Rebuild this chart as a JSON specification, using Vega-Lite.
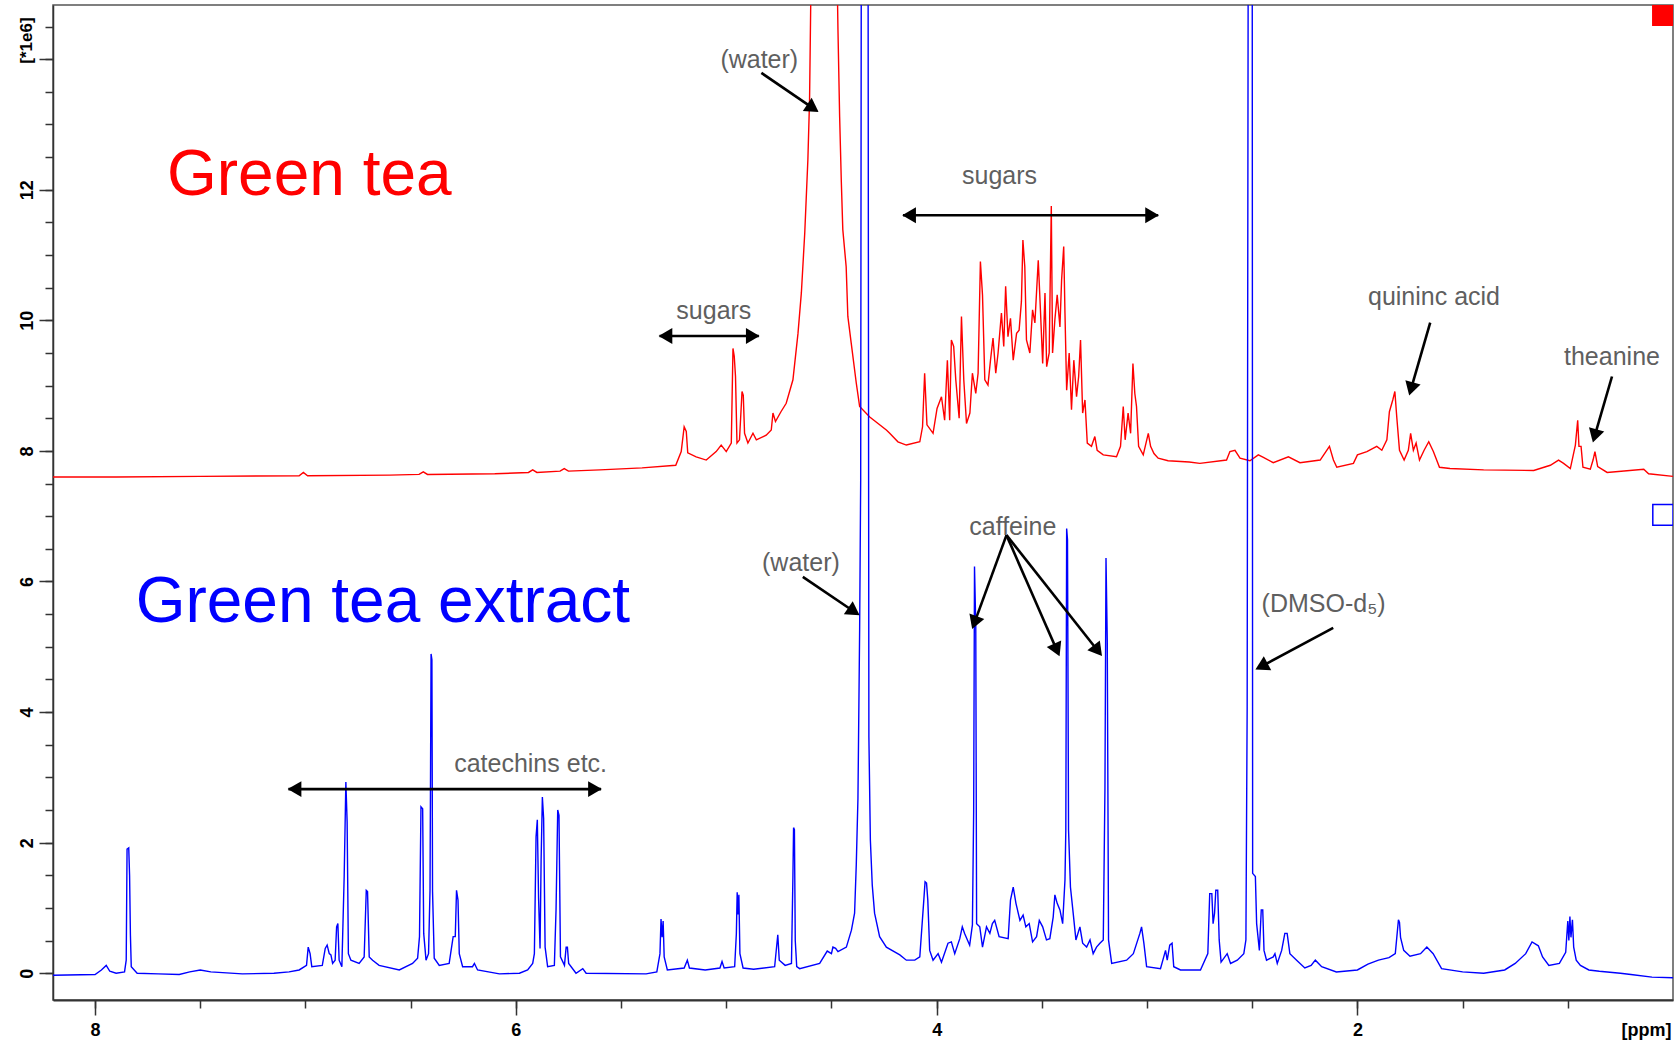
{
  "$schema": "https://vega.github.io/schema/vega-lite/v6.json",
  "autosize": {"type": "none"},
  "width": 1620,
  "height": 995,
  "padding": {"left": 53, "top": 5, "right": 2, "bottom": 47},
  "background": "#ffffff",
  "config": {
    "view": {"stroke": "#555555", "strokeWidth": 1.5},
    "axis": {"grid": false, "labelFont": "Liberation Sans", "labelFontWeight": "bold", "labelFontSize": 18, "labelColor": "#000000", "titleFont": "Liberation Sans", "titleFontWeight": "bold", "titleFontSize": 18, "titleColor": "#000000", "tickColor": "#333333", "tickWidth": 1.5, "domainColor": "#333333", "labelFlush": false, "labelOverlap": false}
  },
  "datasets": {
    "spectra": [
      {"sample":"Green tea","ppm":8.2,"i":7.6},{"sample":"Green tea","ppm":7.9,"i":7.6},{"sample":"Green tea","ppm":7.5,"i":7.61},{"sample":"Green tea","ppm":7.03,"i":7.62},{"sample":"Green tea","ppm":7.01,"i":7.67},{"sample":"Green tea","ppm":6.99,"i":7.62},{"sample":"Green tea","ppm":6.6,"i":7.63},{"sample":"Green tea","ppm":6.46,"i":7.64},{"sample":"Green tea","ppm":6.44,"i":7.68},{"sample":"Green tea","ppm":6.42,"i":7.64},{"sample":"Green tea","ppm":6.1,"i":7.65},{"sample":"Green tea","ppm":5.94,"i":7.67},{"sample":"Green tea","ppm":5.92,"i":7.71},{"sample":"Green tea","ppm":5.9,"i":7.67},{"sample":"Green tea","ppm":5.79,"i":7.69},{"sample":"Green tea","ppm":5.77,"i":7.73},{"sample":"Green tea","ppm":5.75,"i":7.69},{"sample":"Green tea","ppm":5.6,"i":7.71},{"sample":"Green tea","ppm":5.4,"i":7.74},{"sample":"Green tea","ppm":5.24,"i":7.78},{"sample":"Green tea","ppm":5.214,"i":7.99},{"sample":"Green tea","ppm":5.2,"i":8.37},{"sample":"Green tea","ppm":5.19,"i":8.3},{"sample":"Green tea","ppm":5.183,"i":7.97},{"sample":"Green tea","ppm":5.143,"i":7.91},{"sample":"Green tea","ppm":5.095,"i":7.86},{"sample":"Green tea","ppm":5.048,"i":7.99},{"sample":"Green tea","ppm":5.024,"i":8.09},{"sample":"Green tea","ppm":5.0,"i":7.99},{"sample":"Green tea","ppm":4.976,"i":8.12},{"sample":"Green tea","ppm":4.968,"i":9.57},{"sample":"Green tea","ppm":4.962,"i":9.45},{"sample":"Green tea","ppm":4.956,"i":9.14},{"sample":"Green tea","ppm":4.949,"i":8.12},{"sample":"Green tea","ppm":4.937,"i":8.17},{"sample":"Green tea","ppm":4.925,"i":8.91},{"sample":"Green tea","ppm":4.919,"i":8.85},{"sample":"Green tea","ppm":4.913,"i":8.27},{"sample":"Green tea","ppm":4.897,"i":8.12},{"sample":"Green tea","ppm":4.873,"i":8.27},{"sample":"Green tea","ppm":4.857,"i":8.17},{"sample":"Green tea","ppm":4.81,"i":8.24},{"sample":"Green tea","ppm":4.786,"i":8.32},{"sample":"Green tea","ppm":4.778,"i":8.58},{"sample":"Green tea","ppm":4.766,"i":8.45},{"sample":"Green tea","ppm":4.74,"i":8.6},{"sample":"Green tea","ppm":4.715,"i":8.73},{"sample":"Green tea","ppm":4.683,"i":9.09},{"sample":"Green tea","ppm":4.659,"i":9.8},{"sample":"Green tea","ppm":4.643,"i":10.42},{"sample":"Green tea","ppm":4.627,"i":11.33},{"sample":"Green tea","ppm":4.612,"i":12.46},{"sample":"Green tea","ppm":4.604,"i":13.38},{"sample":"Green tea","ppm":4.596,"i":15.5},{"sample":"Green tea","ppm":4.54,"i":22},{"sample":"Green tea","ppm":4.474,"i":15.5},{"sample":"Green tea","ppm":4.469,"i":14.45},{"sample":"Green tea","ppm":4.461,"i":13.12},{"sample":"Green tea","ppm":4.453,"i":12.12},{"sample":"Green tea","ppm":4.446,"i":11.39},{"sample":"Green tea","ppm":4.43,"i":10.82},{"sample":"Green tea","ppm":4.422,"i":10.06},{"sample":"Green tea","ppm":4.406,"i":9.65},{"sample":"Green tea","ppm":4.382,"i":9.04},{"sample":"Green tea","ppm":4.366,"i":8.68},{"sample":"Green tea","ppm":4.318,"i":8.52},{"sample":"Green tea","ppm":4.239,"i":8.32},{"sample":"Green tea","ppm":4.223,"i":8.27},{"sample":"Green tea","ppm":4.184,"i":8.14},{"sample":"Green tea","ppm":4.144,"i":8.09},{"sample":"Green tea","ppm":4.08,"i":8.14},{"sample":"Green tea","ppm":4.067,"i":8.37},{"sample":"Green tea","ppm":4.057,"i":9.19},{"sample":"Green tea","ppm":4.046,"i":8.4},{"sample":"Green tea","ppm":4.017,"i":8.27},{"sample":"Green tea","ppm":3.998,"i":8.65},{"sample":"Green tea","ppm":3.977,"i":8.83},{"sample":"Green tea","ppm":3.962,"i":8.47},{"sample":"Green tea","ppm":3.949,"i":9.39},{"sample":"Green tea","ppm":3.938,"i":8.47},{"sample":"Green tea","ppm":3.93,"i":9.7},{"sample":"Green tea","ppm":3.919,"i":9.6},{"sample":"Green tea","ppm":3.909,"i":9.09},{"sample":"Green tea","ppm":3.893,"i":8.5},{"sample":"Green tea","ppm":3.882,"i":10.06},{"sample":"Green tea","ppm":3.871,"i":9.09},{"sample":"Green tea","ppm":3.858,"i":8.42},{"sample":"Green tea","ppm":3.842,"i":8.58},{"sample":"Green tea","ppm":3.83,"i":9.19},{"sample":"Green tea","ppm":3.814,"i":8.88},{"sample":"Green tea","ppm":3.803,"i":9.19},{"sample":"Green tea","ppm":3.792,"i":10.9},{"sample":"Green tea","ppm":3.782,"i":10.39},{"sample":"Green tea","ppm":3.771,"i":9.09},{"sample":"Green tea","ppm":3.756,"i":9.01},{"sample":"Green tea","ppm":3.744,"i":9.39},{"sample":"Green tea","ppm":3.732,"i":9.73},{"sample":"Green tea","ppm":3.719,"i":9.19},{"sample":"Green tea","ppm":3.708,"i":9.5},{"sample":"Green tea","ppm":3.692,"i":10.11},{"sample":"Green tea","ppm":3.681,"i":9.6},{"sample":"Green tea","ppm":3.672,"i":10.52},{"sample":"Green tea","ppm":3.661,"i":9.75},{"sample":"Green tea","ppm":3.649,"i":10.03},{"sample":"Green tea","ppm":3.636,"i":9.39},{"sample":"Green tea","ppm":3.62,"i":9.8},{"sample":"Green tea","ppm":3.608,"i":9.85},{"sample":"Green tea","ppm":3.597,"i":10.29},{"sample":"Green tea","ppm":3.59,"i":11.23},{"sample":"Green tea","ppm":3.581,"i":10.82},{"sample":"Green tea","ppm":3.573,"i":9.7},{"sample":"Green tea","ppm":3.557,"i":9.5},{"sample":"Green tea","ppm":3.544,"i":10.16},{"sample":"Green tea","ppm":3.533,"i":9.96},{"sample":"Green tea","ppm":3.517,"i":10.92},{"sample":"Green tea","ppm":3.506,"i":10.11},{"sample":"Green tea","ppm":3.496,"i":9.34},{"sample":"Green tea","ppm":3.485,"i":10.42},{"sample":"Green tea","ppm":3.477,"i":9.29},{"sample":"Green tea","ppm":3.465,"i":9.5},{"sample":"Green tea","ppm":3.455,"i":11.75},{"sample":"Green tea","ppm":3.449,"i":9.5},{"sample":"Green tea","ppm":3.438,"i":10.01},{"sample":"Green tea","ppm":3.427,"i":10.39},{"sample":"Green tea","ppm":3.414,"i":9.9},{"sample":"Green tea","ppm":3.406,"i":10.62},{"sample":"Green tea","ppm":3.396,"i":11.13},{"sample":"Green tea","ppm":3.39,"i":10.11},{"sample":"Green tea","ppm":3.382,"i":8.93},{"sample":"Green tea","ppm":3.37,"i":9.5},{"sample":"Green tea","ppm":3.359,"i":8.63},{"sample":"Green tea","ppm":3.348,"i":9.39},{"sample":"Green tea","ppm":3.335,"i":8.83},{"sample":"Green tea","ppm":3.325,"i":9.14},{"sample":"Green tea","ppm":3.316,"i":9.7},{"sample":"Green tea","ppm":3.306,"i":8.58},{"sample":"Green tea","ppm":3.295,"i":8.78},{"sample":"Green tea","ppm":3.284,"i":8.12},{"sample":"Green tea","ppm":3.264,"i":8.07},{"sample":"Green tea","ppm":3.248,"i":8.22},{"sample":"Green tea","ppm":3.237,"i":8.01},{"sample":"Green tea","ppm":3.208,"i":7.94},{"sample":"Green tea","ppm":3.145,"i":7.91},{"sample":"Green tea","ppm":3.126,"i":8.07},{"sample":"Green tea","ppm":3.113,"i":8.68},{"sample":"Green tea","ppm":3.104,"i":8.17},{"sample":"Green tea","ppm":3.09,"i":8.58},{"sample":"Green tea","ppm":3.078,"i":8.27},{"sample":"Green tea","ppm":3.067,"i":9.34},{"sample":"Green tea","ppm":3.058,"i":8.88},{"sample":"Green tea","ppm":3.05,"i":8.68},{"sample":"Green tea","ppm":3.04,"i":8.07},{"sample":"Green tea","ppm":3.018,"i":7.94},{"sample":"Green tea","ppm":2.994,"i":8.27},{"sample":"Green tea","ppm":2.983,"i":8.07},{"sample":"Green tea","ppm":2.967,"i":7.96},{"sample":"Green tea","ppm":2.947,"i":7.89},{"sample":"Green tea","ppm":2.9,"i":7.85},{"sample":"Green tea","ppm":2.8,"i":7.83},{"sample":"Green tea","ppm":2.749,"i":7.81},{"sample":"Green tea","ppm":2.622,"i":7.86},{"sample":"Green tea","ppm":2.606,"i":7.99},{"sample":"Green tea","ppm":2.582,"i":8.01},{"sample":"Green tea","ppm":2.558,"i":7.89},{"sample":"Green tea","ppm":2.511,"i":7.85},{"sample":"Green tea","ppm":2.471,"i":7.94},{"sample":"Green tea","ppm":2.447,"i":7.9},{"sample":"Green tea","ppm":2.4,"i":7.82},{"sample":"Green tea","ppm":2.328,"i":7.91},{"sample":"Green tea","ppm":2.273,"i":7.82},{"sample":"Green tea","ppm":2.177,"i":7.86},{"sample":"Green tea","ppm":2.133,"i":8.07},{"sample":"Green tea","ppm":2.114,"i":7.86},{"sample":"Green tea","ppm":2.098,"i":7.75},{"sample":"Green tea","ppm":2.019,"i":7.81},{"sample":"Green tea","ppm":2.0,"i":7.94},{"sample":"Green tea","ppm":1.955,"i":7.99},{"sample":"Green tea","ppm":1.908,"i":8.07},{"sample":"Green tea","ppm":1.884,"i":8.01},{"sample":"Green tea","ppm":1.86,"i":8.17},{"sample":"Green tea","ppm":1.848,"i":8.6},{"sample":"Green tea","ppm":1.832,"i":8.78},{"sample":"Green tea","ppm":1.822,"i":8.91},{"sample":"Green tea","ppm":1.813,"i":8.52},{"sample":"Green tea","ppm":1.8,"i":8.01},{"sample":"Green tea","ppm":1.778,"i":7.86},{"sample":"Green tea","ppm":1.758,"i":8.01},{"sample":"Green tea","ppm":1.747,"i":8.27},{"sample":"Green tea","ppm":1.734,"i":8.01},{"sample":"Green tea","ppm":1.721,"i":8.12},{"sample":"Green tea","ppm":1.705,"i":7.86},{"sample":"Green tea","ppm":1.683,"i":8.01},{"sample":"Green tea","ppm":1.661,"i":8.14},{"sample":"Green tea","ppm":1.639,"i":7.99},{"sample":"Green tea","ppm":1.61,"i":7.75},{"sample":"Green tea","ppm":1.56,"i":7.73},{"sample":"Green tea","ppm":1.4,"i":7.71},{"sample":"Green tea","ppm":1.162,"i":7.7},{"sample":"Green tea","ppm":1.083,"i":7.78},{"sample":"Green tea","ppm":1.044,"i":7.86},{"sample":"Green tea","ppm":1.02,"i":7.81},{"sample":"Green tea","ppm":0.988,"i":7.73},{"sample":"Green tea","ppm":0.964,"i":8.09},{"sample":"Green tea","ppm":0.953,"i":8.47},{"sample":"Green tea","ppm":0.947,"i":8.07},{"sample":"Green tea","ppm":0.937,"i":8.07},{"sample":"Green tea","ppm":0.928,"i":7.75},{"sample":"Green tea","ppm":0.893,"i":7.72},{"sample":"Green tea","ppm":0.88,"i":7.86},{"sample":"Green tea","ppm":0.871,"i":7.99},{"sample":"Green tea","ppm":0.858,"i":7.76},{"sample":"Green tea","ppm":0.813,"i":7.67},{"sample":"Green tea","ppm":0.639,"i":7.72},{"sample":"Green tea","ppm":0.616,"i":7.65},{"sample":"Green tea","ppm":0.5,"i":7.61},

      {"sample":"Green tea extract","ppm":8.2,"i":-0.03},{"sample":"Green tea extract","ppm":8.0,"i":-0.02},{"sample":"Green tea extract","ppm":7.97,"i":0.05},{"sample":"Green tea extract","ppm":7.947,"i":0.12},{"sample":"Green tea extract","ppm":7.93,"i":0.03},{"sample":"Green tea extract","ppm":7.9,"i":0.0},{"sample":"Green tea extract","ppm":7.86,"i":0.02},{"sample":"Green tea extract","ppm":7.852,"i":0.2},{"sample":"Green tea extract","ppm":7.848,"i":1.9},{"sample":"Green tea extract","ppm":7.84,"i":1.92},{"sample":"Green tea extract","ppm":7.836,"i":1.5},{"sample":"Green tea extract","ppm":7.832,"i":0.58},{"sample":"Green tea extract","ppm":7.828,"i":0.1},{"sample":"Green tea extract","ppm":7.8,"i":0.0},{"sample":"Green tea extract","ppm":7.7,"i":-0.01},{"sample":"Green tea extract","ppm":7.6,"i":-0.02},{"sample":"Green tea extract","ppm":7.55,"i":0.02},{"sample":"Green tea extract","ppm":7.5,"i":0.05},{"sample":"Green tea extract","ppm":7.45,"i":0.02},{"sample":"Green tea extract","ppm":7.3,"i":-0.01},{"sample":"Green tea extract","ppm":7.15,"i":0.0},{"sample":"Green tea extract","ppm":7.078,"i":0.02},{"sample":"Green tea extract","ppm":7.03,"i":0.05},{"sample":"Green tea extract","ppm":6.995,"i":0.12},{"sample":"Green tea extract","ppm":6.987,"i":0.4},{"sample":"Green tea extract","ppm":6.978,"i":0.3},{"sample":"Green tea extract","ppm":6.97,"i":0.1},{"sample":"Green tea extract","ppm":6.92,"i":0.12},{"sample":"Green tea extract","ppm":6.906,"i":0.38},{"sample":"Green tea extract","ppm":6.897,"i":0.43},{"sample":"Green tea extract","ppm":6.887,"i":0.3},{"sample":"Green tea extract","ppm":6.879,"i":0.28},{"sample":"Green tea extract","ppm":6.871,"i":0.15},{"sample":"Green tea extract","ppm":6.859,"i":0.2},{"sample":"Green tea extract","ppm":6.852,"i":0.71},{"sample":"Green tea extract","ppm":6.846,"i":0.76},{"sample":"Green tea extract","ppm":6.84,"i":0.2},{"sample":"Green tea extract","ppm":6.827,"i":0.1},{"sample":"Green tea extract","ppm":6.816,"i":1.48},{"sample":"Green tea extract","ppm":6.808,"i":2.93},{"sample":"Green tea extract","ppm":6.802,"i":2.32},{"sample":"Green tea extract","ppm":6.796,"i":0.3},{"sample":"Green tea extract","ppm":6.784,"i":0.2},{"sample":"Green tea extract","ppm":6.745,"i":0.15},{"sample":"Green tea extract","ppm":6.721,"i":0.25},{"sample":"Green tea extract","ppm":6.711,"i":1.27},{"sample":"Green tea extract","ppm":6.705,"i":1.25},{"sample":"Green tea extract","ppm":6.697,"i":0.25},{"sample":"Green tea extract","ppm":6.681,"i":0.2},{"sample":"Green tea extract","ppm":6.65,"i":0.12},{"sample":"Green tea extract","ppm":6.554,"i":0.05},{"sample":"Green tea extract","ppm":6.491,"i":0.15},{"sample":"Green tea extract","ppm":6.467,"i":0.23},{"sample":"Green tea extract","ppm":6.458,"i":0.56},{"sample":"Green tea extract","ppm":6.451,"i":2.55},{"sample":"Green tea extract","ppm":6.443,"i":2.52},{"sample":"Green tea extract","ppm":6.438,"i":0.61},{"sample":"Green tea extract","ppm":6.427,"i":0.2},{"sample":"Green tea extract","ppm":6.415,"i":0.3},{"sample":"Green tea extract","ppm":6.408,"i":1.27},{"sample":"Green tea extract","ppm":6.403,"i":4.89},{"sample":"Green tea extract","ppm":6.399,"i":4.8},{"sample":"Green tea extract","ppm":6.396,"i":1.25},{"sample":"Green tea extract","ppm":6.388,"i":0.23},{"sample":"Green tea extract","ppm":6.364,"i":0.12},{"sample":"Green tea extract","ppm":6.317,"i":0.15},{"sample":"Green tea extract","ppm":6.298,"i":0.56},{"sample":"Green tea extract","ppm":6.288,"i":0.56},{"sample":"Green tea extract","ppm":6.282,"i":1.27},{"sample":"Green tea extract","ppm":6.275,"i":1.12},{"sample":"Green tea extract","ppm":6.269,"i":0.3},{"sample":"Green tea extract","ppm":6.253,"i":0.1},{"sample":"Green tea extract","ppm":6.206,"i":0.1},{"sample":"Green tea extract","ppm":6.197,"i":0.15},{"sample":"Green tea extract","ppm":6.182,"i":0.05},{"sample":"Green tea extract","ppm":6.078,"i":-0.01},{"sample":"Green tea extract","ppm":5.983,"i":0.0},{"sample":"Green tea extract","ppm":5.944,"i":0.05},{"sample":"Green tea extract","ppm":5.92,"i":0.15},{"sample":"Green tea extract","ppm":5.912,"i":0.3},{"sample":"Green tea extract","ppm":5.904,"i":2.09},{"sample":"Green tea extract","ppm":5.898,"i":2.35},{"sample":"Green tea extract","ppm":5.892,"i":1.15},{"sample":"Green tea extract","ppm":5.885,"i":0.38},{"sample":"Green tea extract","ppm":5.88,"i":1.73},{"sample":"Green tea extract","ppm":5.874,"i":2.7},{"sample":"Green tea extract","ppm":5.868,"i":2.37},{"sample":"Green tea extract","ppm":5.861,"i":0.4},{"sample":"Green tea extract","ppm":5.849,"i":0.1},{"sample":"Green tea extract","ppm":5.817,"i":0.12},{"sample":"Green tea extract","ppm":5.809,"i":0.97},{"sample":"Green tea extract","ppm":5.801,"i":2.5},{"sample":"Green tea extract","ppm":5.795,"i":2.42},{"sample":"Green tea extract","ppm":5.788,"i":0.25},{"sample":"Green tea extract","ppm":5.769,"i":0.12},{"sample":"Green tea extract","ppm":5.761,"i":0.4},{"sample":"Green tea extract","ppm":5.755,"i":0.4},{"sample":"Green tea extract","ppm":5.749,"i":0.15},{"sample":"Green tea extract","ppm":5.714,"i":0.0},{"sample":"Green tea extract","ppm":5.682,"i":0.07},{"sample":"Green tea extract","ppm":5.666,"i":0.0},{"sample":"Green tea extract","ppm":5.381,"i":-0.01},{"sample":"Green tea extract","ppm":5.33,"i":0.02},{"sample":"Green tea extract","ppm":5.315,"i":0.3},{"sample":"Green tea extract","ppm":5.31,"i":0.83},{"sample":"Green tea extract","ppm":5.305,"i":0.55},{"sample":"Green tea extract","ppm":5.3,"i":0.8},{"sample":"Green tea extract","ppm":5.295,"i":0.25},{"sample":"Green tea extract","ppm":5.28,"i":0.05},{"sample":"Green tea extract","ppm":5.2,"i":0.08},{"sample":"Green tea extract","ppm":5.185,"i":0.2},{"sample":"Green tea extract","ppm":5.175,"i":0.08},{"sample":"Green tea extract","ppm":5.1,"i":0.05},{"sample":"Green tea extract","ppm":5.03,"i":0.08},{"sample":"Green tea extract","ppm":5.02,"i":0.18},{"sample":"Green tea extract","ppm":5.01,"i":0.08},{"sample":"Green tea extract","ppm":4.96,"i":0.1},{"sample":"Green tea extract","ppm":4.952,"i":0.6},{"sample":"Green tea extract","ppm":4.948,"i":1.24},{"sample":"Green tea extract","ppm":4.944,"i":0.9},{"sample":"Green tea extract","ppm":4.94,"i":1.2},{"sample":"Green tea extract","ppm":4.935,"i":0.3},{"sample":"Green tea extract","ppm":4.92,"i":0.08},{"sample":"Green tea extract","ppm":4.87,"i":0.06},{"sample":"Green tea extract","ppm":4.77,"i":0.1},{"sample":"Green tea extract","ppm":4.755,"i":0.59},{"sample":"Green tea extract","ppm":4.748,"i":0.2},{"sample":"Green tea extract","ppm":4.72,"i":0.12},{"sample":"Green tea extract","ppm":4.69,"i":0.15},{"sample":"Green tea extract","ppm":4.683,"i":1.5},{"sample":"Green tea extract","ppm":4.68,"i":2.23},{"sample":"Green tea extract","ppm":4.676,"i":2.2},{"sample":"Green tea extract","ppm":4.672,"i":0.5},{"sample":"Green tea extract","ppm":4.665,"i":0.1},{"sample":"Green tea extract","ppm":4.651,"i":0.07},{"sample":"Green tea extract","ppm":4.556,"i":0.15},{"sample":"Green tea extract","ppm":4.52,"i":0.34},{"sample":"Green tea extract","ppm":4.5,"i":0.3},{"sample":"Green tea extract","ppm":4.493,"i":0.4},{"sample":"Green tea extract","ppm":4.48,"i":0.38},{"sample":"Green tea extract","ppm":4.469,"i":0.33},{"sample":"Green tea extract","ppm":4.429,"i":0.4},{"sample":"Green tea extract","ppm":4.405,"i":0.66},{"sample":"Green tea extract","ppm":4.39,"i":0.92},{"sample":"Green tea extract","ppm":4.382,"i":1.66},{"sample":"Green tea extract","ppm":4.374,"i":2.68},{"sample":"Green tea extract","ppm":4.366,"i":5.26},{"sample":"Green tea extract","ppm":4.361,"i":7.55},{"sample":"Green tea extract","ppm":4.358,"i":16},{"sample":"Green tea extract","ppm":4.342,"i":30},{"sample":"Green tea extract","ppm":4.326,"i":16},{"sample":"Green tea extract","ppm":4.324,"i":9.7},{"sample":"Green tea extract","ppm":4.322,"i":3.62},{"sample":"Green tea extract","ppm":4.315,"i":2.04},{"sample":"Green tea extract","ppm":4.306,"i":1.35},{"sample":"Green tea extract","ppm":4.295,"i":0.92},{"sample":"Green tea extract","ppm":4.271,"i":0.56},{"sample":"Green tea extract","ppm":4.239,"i":0.4},{"sample":"Green tea extract","ppm":4.175,"i":0.28},{"sample":"Green tea extract","ppm":4.144,"i":0.2},{"sample":"Green tea extract","ppm":4.104,"i":0.2},{"sample":"Green tea extract","ppm":4.08,"i":0.25},{"sample":"Green tea extract","ppm":4.061,"i":1.12},{"sample":"Green tea extract","ppm":4.055,"i":1.4},{"sample":"Green tea extract","ppm":4.048,"i":1.38},{"sample":"Green tea extract","ppm":4.042,"i":1.12},{"sample":"Green tea extract","ppm":4.033,"i":0.35},{"sample":"Green tea extract","ppm":4.017,"i":0.2},{"sample":"Green tea extract","ppm":3.993,"i":0.3},{"sample":"Green tea extract","ppm":3.977,"i":0.17},{"sample":"Green tea extract","ppm":3.946,"i":0.46},{"sample":"Green tea extract","ppm":3.93,"i":0.48},{"sample":"Green tea extract","ppm":3.914,"i":0.3},{"sample":"Green tea extract","ppm":3.89,"i":0.53},{"sample":"Green tea extract","ppm":3.878,"i":0.71},{"sample":"Green tea extract","ppm":3.867,"i":0.61},{"sample":"Green tea extract","ppm":3.843,"i":0.43},{"sample":"Green tea extract","ppm":3.83,"i":0.74},{"sample":"Green tea extract","ppm":3.824,"i":2.47},{"sample":"Green tea extract","ppm":3.82,"i":6.23},{"sample":"Green tea extract","ppm":3.814,"i":5.31},{"sample":"Green tea extract","ppm":3.81,"i":0.76},{"sample":"Green tea extract","ppm":3.795,"i":0.71},{"sample":"Green tea extract","ppm":3.782,"i":0.4},{"sample":"Green tea extract","ppm":3.763,"i":0.71},{"sample":"Green tea extract","ppm":3.747,"i":0.61},{"sample":"Green tea extract","ppm":3.735,"i":0.76},{"sample":"Green tea extract","ppm":3.724,"i":0.81},{"sample":"Green tea extract","ppm":3.703,"i":0.56},{"sample":"Green tea extract","ppm":3.66,"i":0.53},{"sample":"Green tea extract","ppm":3.649,"i":1.12},{"sample":"Green tea extract","ppm":3.636,"i":1.32},{"sample":"Green tea extract","ppm":3.623,"i":1.07},{"sample":"Green tea extract","ppm":3.604,"i":0.81},{"sample":"Green tea extract","ppm":3.589,"i":0.89},{"sample":"Green tea extract","ppm":3.576,"i":0.71},{"sample":"Green tea extract","ppm":3.56,"i":0.76},{"sample":"Green tea extract","ppm":3.544,"i":0.48},{"sample":"Green tea extract","ppm":3.525,"i":0.56},{"sample":"Green tea extract","ppm":3.512,"i":0.81},{"sample":"Green tea extract","ppm":3.496,"i":0.71},{"sample":"Green tea extract","ppm":3.478,"i":0.51},{"sample":"Green tea extract","ppm":3.462,"i":0.53},{"sample":"Green tea extract","ppm":3.446,"i":0.86},{"sample":"Green tea extract","ppm":3.438,"i":1.2},{"sample":"Green tea extract","ppm":3.427,"i":1.07},{"sample":"Green tea extract","ppm":3.414,"i":0.97},{"sample":"Green tea extract","ppm":3.401,"i":0.76},{"sample":"Green tea extract","ppm":3.39,"i":1.43},{"sample":"Green tea extract","ppm":3.386,"i":2.19},{"sample":"Green tea extract","ppm":3.382,"i":6.81},{"sample":"Green tea extract","ppm":3.378,"i":6.64},{"sample":"Green tea extract","ppm":3.373,"i":2.19},{"sample":"Green tea extract","ppm":3.364,"i":1.32},{"sample":"Green tea extract","ppm":3.351,"i":0.92},{"sample":"Green tea extract","ppm":3.338,"i":0.51},{"sample":"Green tea extract","ppm":3.319,"i":0.71},{"sample":"Green tea extract","ppm":3.306,"i":0.46},{"sample":"Green tea extract","ppm":3.287,"i":0.4},{"sample":"Green tea extract","ppm":3.271,"i":0.51},{"sample":"Green tea extract","ppm":3.256,"i":0.3},{"sample":"Green tea extract","ppm":3.24,"i":0.4},{"sample":"Green tea extract","ppm":3.224,"i":0.46},{"sample":"Green tea extract","ppm":3.208,"i":0.51},{"sample":"Green tea extract","ppm":3.2,"i":2.83},{"sample":"Green tea extract","ppm":3.195,"i":6.36},{"sample":"Green tea extract","ppm":3.189,"i":5.1},{"sample":"Green tea extract","ppm":3.183,"i":0.51},{"sample":"Green tea extract","ppm":3.168,"i":0.15},{"sample":"Green tea extract","ppm":3.097,"i":0.2},{"sample":"Green tea extract","ppm":3.065,"i":0.3},{"sample":"Green tea extract","ppm":3.034,"i":0.61},{"sample":"Green tea extract","ppm":3.026,"i":0.71},{"sample":"Green tea extract","ppm":3.015,"i":0.46},{"sample":"Green tea extract","ppm":3.002,"i":0.1},{"sample":"Green tea extract","ppm":2.936,"i":0.07},{"sample":"Green tea extract","ppm":2.912,"i":0.35},{"sample":"Green tea extract","ppm":2.904,"i":0.2},{"sample":"Green tea extract","ppm":2.892,"i":0.43},{"sample":"Green tea extract","ppm":2.881,"i":0.46},{"sample":"Green tea extract","ppm":2.873,"i":0.1},{"sample":"Green tea extract","ppm":2.841,"i":0.05},{"sample":"Green tea extract","ppm":2.746,"i":0.05},{"sample":"Green tea extract","ppm":2.711,"i":0.3},{"sample":"Green tea extract","ppm":2.702,"i":1.22},{"sample":"Green tea extract","ppm":2.692,"i":1.22},{"sample":"Green tea extract","ppm":2.686,"i":0.76},{"sample":"Green tea extract","ppm":2.679,"i":0.92},{"sample":"Green tea extract","ppm":2.673,"i":1.27},{"sample":"Green tea extract","ppm":2.664,"i":1.27},{"sample":"Green tea extract","ppm":2.657,"i":0.51},{"sample":"Green tea extract","ppm":2.648,"i":0.17},{"sample":"Green tea extract","ppm":2.619,"i":0.3},{"sample":"Green tea extract","ppm":2.603,"i":0.15},{"sample":"Green tea extract","ppm":2.571,"i":0.2},{"sample":"Green tea extract","ppm":2.54,"i":0.3},{"sample":"Green tea extract","ppm":2.53,"i":0.51},{"sample":"Green tea extract","ppm":2.524,"i":4.08},{"sample":"Green tea extract","ppm":2.519,"i":16},{"sample":"Green tea extract","ppm":2.51,"i":30},{"sample":"Green tea extract","ppm":2.5,"i":16},{"sample":"Green tea extract","ppm":2.498,"i":1.53},{"sample":"Green tea extract","ppm":2.485,"i":1.48},{"sample":"Green tea extract","ppm":2.479,"i":0.76},{"sample":"Green tea extract","ppm":2.466,"i":0.35},{"sample":"Green tea extract","ppm":2.457,"i":0.97},{"sample":"Green tea extract","ppm":2.45,"i":0.97},{"sample":"Green tea extract","ppm":2.444,"i":0.35},{"sample":"Green tea extract","ppm":2.432,"i":0.2},{"sample":"Green tea extract","ppm":2.4,"i":0.25},{"sample":"Green tea extract","ppm":2.392,"i":0.3},{"sample":"Green tea extract","ppm":2.381,"i":0.15},{"sample":"Green tea extract","ppm":2.36,"i":0.35},{"sample":"Green tea extract","ppm":2.345,"i":0.61},{"sample":"Green tea extract","ppm":2.334,"i":0.61},{"sample":"Green tea extract","ppm":2.321,"i":0.3},{"sample":"Green tea extract","ppm":2.289,"i":0.2},{"sample":"Green tea extract","ppm":2.25,"i":0.08},{"sample":"Green tea extract","ppm":2.22,"i":0.12},{"sample":"Green tea extract","ppm":2.2,"i":0.2},{"sample":"Green tea extract","ppm":2.17,"i":0.1},{"sample":"Green tea extract","ppm":2.1,"i":0.02},{"sample":"Green tea extract","ppm":2.0,"i":0.05},{"sample":"Green tea extract","ppm":1.95,"i":0.14},{"sample":"Green tea extract","ppm":1.9,"i":0.2},{"sample":"Green tea extract","ppm":1.85,"i":0.24},{"sample":"Green tea extract","ppm":1.82,"i":0.3},{"sample":"Green tea extract","ppm":1.805,"i":0.82},{"sample":"Green tea extract","ppm":1.8,"i":0.78},{"sample":"Green tea extract","ppm":1.795,"i":0.55},{"sample":"Green tea extract","ppm":1.78,"i":0.35},{"sample":"Green tea extract","ppm":1.75,"i":0.26},{"sample":"Green tea extract","ppm":1.7,"i":0.3},{"sample":"Green tea extract","ppm":1.67,"i":0.4},{"sample":"Green tea extract","ppm":1.64,"i":0.3},{"sample":"Green tea extract","ppm":1.6,"i":0.07},{"sample":"Green tea extract","ppm":1.5,"i":0.02},{"sample":"Green tea extract","ppm":1.4,"i":0.0},{"sample":"Green tea extract","ppm":1.3,"i":0.05},{"sample":"Green tea extract","ppm":1.25,"i":0.15},{"sample":"Green tea extract","ppm":1.2,"i":0.3},{"sample":"Green tea extract","ppm":1.17,"i":0.48},{"sample":"Green tea extract","ppm":1.14,"i":0.42},{"sample":"Green tea extract","ppm":1.12,"i":0.25},{"sample":"Green tea extract","ppm":1.09,"i":0.12},{"sample":"Green tea extract","ppm":1.04,"i":0.15},{"sample":"Green tea extract","ppm":1.01,"i":0.32},{"sample":"Green tea extract","ppm":1.0,"i":0.8},{"sample":"Green tea extract","ppm":0.995,"i":0.5},{"sample":"Green tea extract","ppm":0.99,"i":0.87},{"sample":"Green tea extract","ppm":0.985,"i":0.55},{"sample":"Green tea extract","ppm":0.978,"i":0.82},{"sample":"Green tea extract","ppm":0.972,"i":0.4},{"sample":"Green tea extract","ppm":0.96,"i":0.2},{"sample":"Green tea extract","ppm":0.94,"i":0.12},{"sample":"Green tea extract","ppm":0.9,"i":0.05},{"sample":"Green tea extract","ppm":0.85,"i":0.03},{"sample":"Green tea extract","ppm":0.75,"i":0.0},{"sample":"Green tea extract","ppm":0.7,"i":-0.02},{"sample":"Green tea extract","ppm":0.6,"i":-0.06},{"sample":"Green tea extract","ppm":0.5,"i":-0.07}
    ],
    "boxes": [
      {"sample":"Green tea","ppm":0.596,"ppm2":0.5,"i":14.52,"i2":14.83},
      {"sample":"Green tea extract","ppm":0.596,"ppm2":0.5,"i":6.86,"i2":7.18}
    ],
    "arrows": [
      {"ppm":4.833,"i":13.79,"ppm2":4.588,"i2":13.25},
      {"ppm":5.317,"i":9.76,"ppm2":4.845,"i2":9.76},
      {"ppm":4.16,"i":11.61,"ppm2":2.947,"i2":11.61},
      {"ppm":7.081,"i":2.82,"ppm2":5.595,"i2":2.82},
      {"ppm":1.654,"i":9.965,"ppm2":1.745,"i2":8.95},
      {"ppm":0.79,"i":9.14,"ppm2":0.872,"i2":8.23},
      {"ppm":3.668,"i":6.71,"ppm2":3.82,"i2":5.37},
      {"ppm":3.668,"i":6.71,"ppm2":3.429,"i2":4.95},
      {"ppm":3.668,"i":6.71,"ppm2":3.234,"i2":4.94},
      {"ppm":4.636,"i":6.07,"ppm2":4.393,"i2":5.54},
      {"ppm":2.115,"i":5.29,"ppm2":2.456,"i2":4.7}
    ],
    "heads": [
      {"ppm":4.588,"i":13.25,"angle":124},
      {"ppm":5.289,"i":9.76,"angle":270},
      {"ppm":4.874,"i":9.76,"angle":90},
      {"ppm":4.131,"i":11.61,"angle":270},
      {"ppm":2.976,"i":11.61,"angle":90},
      {"ppm":7.052,"i":2.82,"angle":270},
      {"ppm":5.624,"i":2.82,"angle":90},
      {"ppm":1.745,"i":8.95,"angle":196},
      {"ppm":0.872,"i":8.23,"angle":196},
      {"ppm":3.82,"i":5.37,"angle":200},
      {"ppm":3.429,"i":4.95,"angle":156},
      {"ppm":3.234,"i":4.94,"angle":142},
      {"ppm":4.393,"i":5.54,"angle":124},
      {"ppm":2.456,"i":4.7,"angle":242}
    ],
    "notes": [
      {"ppm":4.843,"i":13.99,"text":"(water)"},
      {"ppm":5.059,"i":10.15,"text":"sugars"},
      {"ppm":3.701,"i":12.21,"text":"sugars"},
      {"ppm":1.636,"i":10.36,"text":"quininc acid"},
      {"ppm":0.79,"i":9.44,"text":"theanine"},
      {"ppm":3.638,"i":6.84,"text":"caffeine"},
      {"ppm":4.645,"i":6.28,"text":"(water)"},
      {"ppm":2.161,"i":5.66,"text":"(DMSO-d₅)"},
      {"ppm":5.93,"i":3.21,"text":"catechins etc."}
    ],
    "titles": [
      {"sample":"Green tea","ppm":7.658,"i":11.92},
      {"sample":"Green tea extract","ppm":7.807,"i":5.38}
    ]
  },
  "layer": [
    {
      "data": {"name": "spectra"},
      "mark": {"type": "line", "clip": true, "strokeWidth": 1.4, "interpolate": "linear"},
      "encoding": {
        "x": {"field": "ppm", "type": "quantitative", "sort": null,
              "scale": {"domain": [0.5, 8.2], "reverse": true, "nice": false, "zero": false},
              "axis": {"orient": "bottom", "values": [8, 6, 4, 2], "tickSize": 15, "labelPadding": 6, "labelBaseline": "top", "domainWidth": 2,
                       "title": "[ppm]", "titleAnchor": "end", "titleAlign": "right", "titleBaseline": "middle", "titleX": 1618, "titleY": 30}},
        "y": {"field": "i", "type": "quantitative",
              "scale": {"domain": [-0.41, 14.83], "nice": false, "zero": false},
              "axis": {"orient": "left", "values": [0, 2, 4, 6, 8, 10, 12, 14], "labelExpr": "datum.value == 14 ? '' : datum.label", "tickSize": 14, "labelAngle": -90, "labelAlign": "center", "labelBaseline": "alphabetic", "labelPadding": 7, "domainWidth": 1.5,
                       "title": "[*1e6]", "titleAngle": -90, "titleAlign": "center", "titleBaseline": "middle", "titleX": -27, "titleY": 35, "titleFontSize": 17}},
        "color": {"field": "sample", "type": "nominal", "scale": {"domain": ["Green tea", "Green tea extract"], "range": ["#ff0000", "#0000ff"]}, "legend": null},
        "order": {"field": "ppm", "type": "quantitative", "sort": "descending"}
      }
    },
    {
      "data": {"name": "boxes"},
      "mark": {"type": "rect", "clip": true, "strokeWidth": 1.5},
      "encoding": {
        "x": {"field": "ppm", "type": "quantitative",
              "axis": {"orient": "bottom", "values": [8, 7.5, 7, 6.5, 6, 5.5, 5, 4.5, 4, 3.5, 3, 2.5, 2, 1.5, 1], "tickSize": 8, "labels": false, "domain": false, "title": null}},
        "x2": {"field": "ppm2"},
        "y": {"field": "i", "type": "quantitative",
              "axis": {"orient": "left", "values": [0, 0.5, 1, 1.5, 2, 2.5, 3, 3.5, 4, 4.5, 5, 5.5, 6, 6.5, 7, 7.5, 8, 8.5, 9, 9.5, 10, 10.5, 11, 11.5, 12, 12.5, 13, 13.5, 14, 14.5], "tickSize": 8, "labels": false, "domain": false, "title": null}},
        "y2": {"field": "i2"},
        "fill": {"field": "sample", "type": "nominal", "scale": {"domain": ["Green tea", "Green tea extract"], "range": ["#ff0000", "#ffffff"]}, "legend": null},
        "stroke": {"field": "sample", "type": "nominal", "scale": {"domain": ["Green tea", "Green tea extract"], "range": ["#ff0000", "#0000ff"]}, "legend": null}
      }
    },
    {
      "data": {"name": "arrows"},
      "mark": {"type": "rule", "color": "#000000", "strokeWidth": 2.6},
      "encoding": {
        "x": {"field": "ppm", "type": "quantitative", "axis": null},
        "x2": {"field": "ppm2"},
        "y": {"field": "i", "type": "quantitative", "axis": null},
        "y2": {"field": "i2"}
      }
    },
    {
      "data": {"name": "heads"},
      "mark": {"type": "point", "shape": "triangle-up", "filled": true, "color": "#000000", "opacity": 1, "size": 250},
      "encoding": {
        "x": {"field": "ppm", "type": "quantitative", "axis": null},
        "y": {"field": "i", "type": "quantitative", "axis": null},
        "angle": {"field": "angle", "type": "quantitative", "scale": null}
      }
    },
    {
      "data": {"name": "notes"},
      "mark": {"type": "text", "font": "Liberation Sans", "fontSize": 25, "color": "#5f5f5f", "align": "center", "baseline": "middle"},
      "encoding": {
        "x": {"field": "ppm", "type": "quantitative", "axis": null},
        "y": {"field": "i", "type": "quantitative", "axis": null},
        "text": {"field": "text", "type": "nominal"}
      }
    },
    {
      "data": {"name": "titles"},
      "mark": {"type": "text", "font": "Liberation Sans", "fontSize": 64, "align": "left", "baseline": "alphabetic"},
      "encoding": {
        "x": {"field": "ppm", "type": "quantitative", "axis": null},
        "y": {"field": "i", "type": "quantitative", "axis": null},
        "text": {"field": "sample", "type": "nominal"},
        "color": {"field": "sample", "type": "nominal", "legend": null}
      }
    }
  ],
  "resolve": {"axis": {"x": "independent", "y": "independent"}}
}
